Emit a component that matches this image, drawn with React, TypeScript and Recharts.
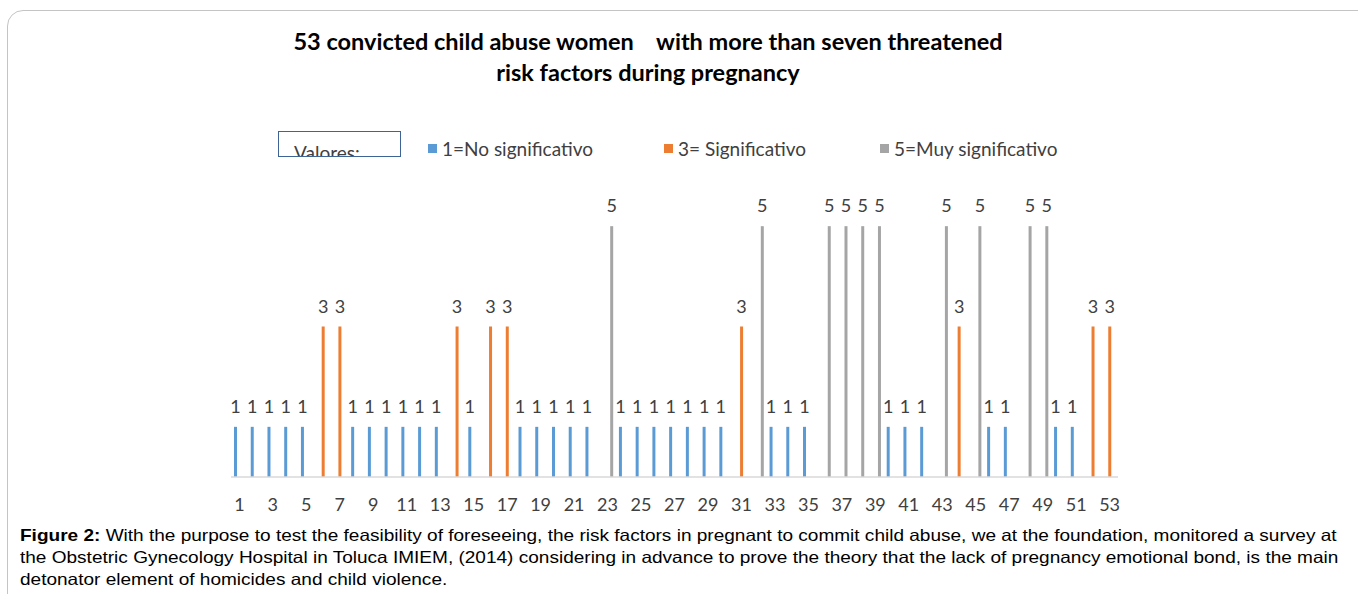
import React from "react";
import { BarChart, Bar, XAxis, YAxis, LabelList } from "recharts";

// one entry per convicted woman
const women = [
  "1", "2", "3", "4", "5", "6", "7", "8", "9", "10",
  "11", "12", "13", "14", "15", "16", "17", "18", "19", "20",
  "21", "22", "23", "24", "25", "26", "27", "28", "29", "30",
  "31", "32", "33", "34", "35", "36", "37", "38", "39", "40",
  "41", "42", "43", "44", "45", "46", "47", "48", "49", "50",
  "51", "52", "53",
];

// risk score (1, 3 or 5)
const scores = [
  1, 1, 1, 1, 1, // 1-5
  3, 3, // 6-7
  1, 1, 1, 1, 1, 1, // 8-13
  3, 1, 3, 3, // 14-17
  1, 1, 1, 1, 1, // 18-22
  5, // 23
  1, 1, 1, 1, 1, 1, 1, // 24-30
  3, 5, // 31-32
  1, 1, 1, // 33-35
  5, 5, 5, 5, // 36-39
  1, 1, 1, // 40-42
  5, 3, 5, // 43-45
  1, 1, // 46-47
  5, 5, // 48-49
  1, 1, // 50-51
  3, 3, // 52-53
];

const series = [
  { key: "low", value: 1, name: "1=No significativo", color: "#5B9BD5" },
  { key: "mid", value: 3, name: "3= Significativo", color: "#ED7D31" },
  { key: "high", value: 5, name: "5=Muy significativo", color: "#A5A5A5" },
];

const data = women.map((id, i) => {
  const row: Record<string, any> = { id };
  series.forEach((s) => {
    row[s.key] = scores[i] === s.value ? scores[i] : null;
  });
  return row;
});

const labelFont = "Lato, 'Open Sans', sans-serif";

export default function App() {
  return (
    <div
      style={{
        position: "fixed",
        left: 0,
        top: 0,
        width: 1358,
        height: 594,
        overflow: "hidden",
        background: "#fff",
      }}
    >
      <div
        style={{
          position: "absolute",
          left: 7,
          top: 10,
          width: 1400,
          height: 640,
          border: "1px solid #c4c4c4",
          borderRadius: 16,
        }}
      />

      <div
        style={{
          position: "absolute",
          left: 0,
          top: 26,
          width: 1296,
          textAlign: "center",
          fontFamily: labelFont,
          fontWeight: 700,
          fontSize: 23.5,
          lineHeight: "31px",
          color: "#000",
          whiteSpace: "pre",
        }}
      >
        {"53 convicted child abuse women    with more than seven threatened\nrisk factors during pregnancy"}
      </div>

      {/* legend */}
      <div
        style={{
          position: "absolute",
          left: 278,
          top: 131,
          width: 121,
          height: 24,
          border: "1.5px solid #3E6496",
          overflow: "hidden",
          fontFamily: labelFont,
          fontSize: 19,
          color: "#404040",
        }}
      >
        <div style={{ position: "absolute", left: 15, top: 9 }}>Valores:</div>
      </div>
      {series.map((s, i) => (
        <div
          key={s.key}
          style={{
            position: "absolute",
            left: [428, 664, 880][i],
            top: 137,
            display: "flex",
            alignItems: "center",
            gap: 5,
            fontFamily: labelFont,
            fontSize: 19,
            color: "#404040",
            whiteSpace: "nowrap",
          }}
        >
          <div style={{ width: 9, height: 9, background: s.color }} />
          <span>{s.name}</span>
        </div>
      ))}

      <div style={{ position: "absolute", left: 0, top: 0 }}>
        <BarChart
          width={1358}
          height={530}
          data={data}
          margin={{ top: 176, right: 240, left: 231, bottom: 23 }}
          barSize={3}
          barGap={1}
        >
          <XAxis
            dataKey="id"
            interval={1}
            tickLine={false}
            tickSize={0}
            tickMargin={21}
            height={30}
            axisLine={{ stroke: "#d9d9d9", strokeWidth: 1.5 }}
            tick={{ fill: "#404040", fontSize: 18, fontFamily: labelFont }}
          />
          <YAxis hide domain={[0, 6]} />
          {series.map((s) => (
            <Bar
              key={s.key}
              dataKey={s.key}
              name={s.name}
              fill={s.color}
              isAnimationActive={false}
            >
              <LabelList
                dataKey={s.key}
                position="top"
                offset={14}
                formatter={(v: any) => (v == null ? "" : v)}
                style={{ fill: "#404040", fontSize: 18, fontFamily: labelFont }}
              />
            </Bar>
          ))}
        </BarChart>
      </div>

      <div
        style={{
          position: "absolute",
          left: 20,
          top: 524,
          fontFamily: "'Liberation Sans', Arial, sans-serif",
          fontSize: 16.5,
          lineHeight: "22px",
          color: "#000",
          whiteSpace: "nowrap",
          transform: "scaleX(1.153)",
          transformOrigin: "left top",
        }}
      >
        <b>Figure 2:</b> With the purpose to test the feasibility of foreseeing, the risk factors in pregnant to commit child abuse, we at the foundation, monitored a survey at
        <br />
        the Obstetric Gynecology Hospital in Toluca IMIEM, (2014) considering in advance to prove the theory that the lack of pregnancy emotional bond, is the main
        <br />
        detonator element of homicides and child violence.
      </div>
    </div>
  );
}
